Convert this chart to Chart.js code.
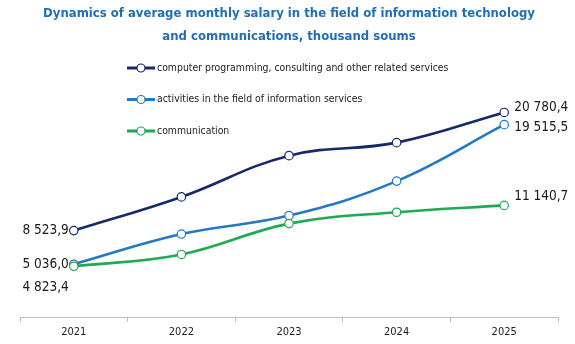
<!DOCTYPE html>
<html>
<head>
<meta charset="utf-8">
<script src="https://cdn.jsdelivr.net/npm/chart.js@4.4.0/dist/chart.umd.min.js"></script>
<style>
  html, body { margin: 0; padding: 0; background: #fff; }
  #wrap { width: 575px; height: 344px; }
</style>
</head>
<body>
<div id="wrap"><canvas id="salaryChart"></canvas></div>
<script>
const years = ["2021", "2022", "2023", "2024", "2025"];
const programmingServices = [8523.9, 12020, 16300, 17650, 20780.4];
const informationServices = [5036.0, 8165, 10080, 13660, 19515.5];
const communication = [4823.4, 6050, 9250, 10430, 11140.7];
const seriesNames = [
  "computer programming, consulting and other related services",
  "activities in the field of information services",
  "communication"
];

const colors = ["#162a6b", "#2379c3", "#1fa952"];
const drawOrder = [2, 1, 0]; // green on top where the lines meet
const FONT = "'Liberation Sans Narrow', 'DejaVu Sans Condensed', Roboto, sans-serif";

// where the first / last value labels sit relative to their point
const firstLabelShift = [{ dx: -5, dy: 0 }, { dx: -5, dy: 0 }, { dx: -5, dy: 21 }];
const lastLabelShift = [{ dx: 10, dy: -5 }, { dx: 10, dy: 3 }, { dx: 10, dy: -9 }];

function fmt(v) {
  const [intPart, dec] = v.toFixed(1).split(".");
  return intPart.replace(/\B(?=(\d{3})+(?!\d))/g, " ") + "," + dec;
}

// values printed at the start and end of every line
const endLabels = {
  id: "endLabels",
  afterDatasetsDraw(chart) {
    const ctx = chart.ctx;
    ctx.save();
    ctx.font = "13.5px " + FONT;
    ctx.fillStyle = "#1a1a1a";
    ctx.textBaseline = "middle";
    chart.data.datasets.forEach((ds, i) => {
      const pts = chart.getDatasetMeta(i).data;
      const last = pts.length - 1;
      const a = pts[0], b = pts[last];
      ctx.textAlign = "right";
      ctx.fillText(fmt(ds.data[0]), a.x + firstLabelShift[i].dx, a.y + firstLabelShift[i].dy);
      ctx.textAlign = "left";
      ctx.fillText(fmt(ds.data[last]), b.x + lastLabelShift[i].dx, b.y + lastLabelShift[i].dy);
    });
    ctx.restore();
  }
};

// stacked legend with a line-and-circle symbol
const lineLegend = {
  id: "lineLegend",
  afterDraw(chart) {
    const ctx = chart.ctx;
    ctx.save();
    chart.data.datasets.forEach((ds, i) => {
      const x = 127, y = 68 + i * 31.5;
      ctx.strokeStyle = ds.borderColor;
      ctx.lineWidth = 3;
      ctx.beginPath();
      ctx.moveTo(x, y);
      ctx.lineTo(x + 28, y);
      ctx.stroke();
      ctx.beginPath();
      ctx.arc(x + 14, y, 4, 0, Math.PI * 2);
      ctx.fillStyle = "#fff";
      ctx.fill();
      ctx.lineWidth = 1.2;
      ctx.stroke();
      ctx.font = "10.4px " + FONT;
      ctx.fillStyle = "#222";
      ctx.textAlign = "left";
      ctx.textBaseline = "middle";
      ctx.fillText(ds.label, x + 30, y);
    });
    ctx.restore();
  }
};

const seriesData = [programmingServices, informationServices, communication];

new Chart(document.getElementById("salaryChart"), {
  type: "line",
  data: {
    labels: years,
    datasets: seriesData.map((d, i) => ({
      label: seriesNames[i],
      data: d,
      order: drawOrder[i],
      borderColor: colors[i],
      backgroundColor: "#fff",
      borderWidth: 2.6,
      tension: 0.4,
      pointRadius: 4.2,
      pointBorderWidth: 1.2,
      pointBackgroundColor: "#fff",
      pointBorderColor: colors[i]
    }))
  },
  options: {
    responsive: true,
    maintainAspectRatio: false,
    animation: false,
    layout: { padding: { left: 20, right: 17, top: 0, bottom: 1 } },
    plugins: {
      legend: { display: false },
      tooltip: { enabled: false },
      title: {
        display: true,
        text: [
          "Dynamics of average monthly salary in the field of information technology",
          "and communications, thousand soums"
        ],
        color: "#1e6fb7",
        font: { family: FONT, size: 13, weight: "bold", lineHeight: 1.7 },
        padding: { top: 3, bottom: 13 }
      }
    },
    scales: {
      x: {
        offset: true,
        grid: { offset: true, drawOnChartArea: false, tickLength: 4, color: "#bdbdbd" },
        border: { color: "#bdbdbd", width: 1 },
        ticks: { color: "#222", font: { family: FONT, size: 11 }, padding: 4 }
      },
      y: {
        display: false,
        min: -520,
        max: 26200
      }
    }
  },
  plugins: [endLabels, lineLegend]
});
</script>
</body>
</html>
